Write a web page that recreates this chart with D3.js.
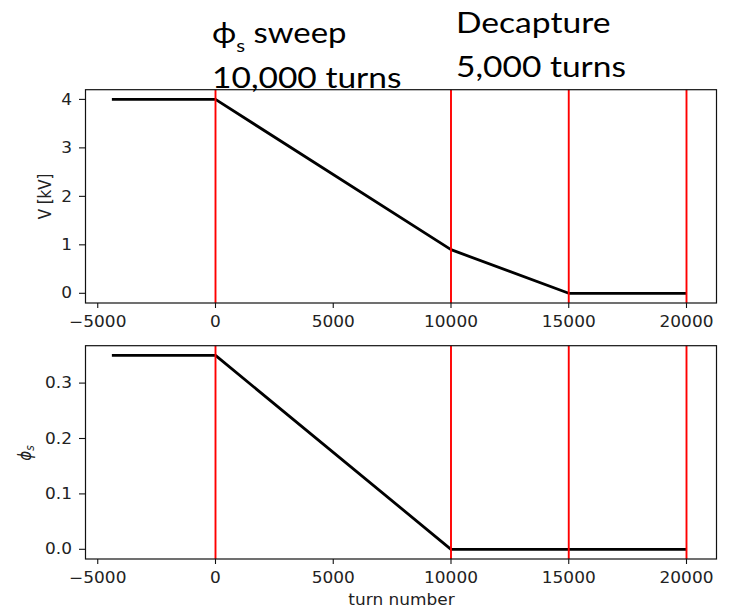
<!DOCTYPE html>
<html>
<head>
<meta charset="utf-8">
<script src="https://cdn.jsdelivr.net/npm/d3@7"></script>
<style>
  html, body { margin: 0; padding: 0; background: #fff; }
  svg { display: block; }
</style>
</head>
<body>
<svg id="chart" width="738" height="613"></svg>
<script>
// Programme breakpoints (turn number)
const turns = [-4400, 0, 10000, 15000, 20000];
// RF voltage in kV at each breakpoint
const voltage = [4, 4, 0.9, 0, 0];
// Synchronous phase at each breakpoint
const phiS = [0.35, 0.35, 0, 0, 0];
// Phase boundaries marked with vertical lines
const markers = [0, 10000, 15000, 20000];
// Tick values
const xTicks = [-5000, 0, 5000, 10000, 15000, 20000];
const vTicks = [0, 1, 2, 3, 4];
const phiTicks = [0.0, 0.1, 0.2, 0.3];

const svg = d3.select("#chart");
const SX = 1.13;           // horizontal text stretch
const tickFont = "'DejaVu Sans', sans-serif";

const plotLeft = 85.5, plotRight = 716.5;
const x = d3.scaleLinear().domain([-5520, 21274]).range([plotLeft, plotRight]);

function panel(top, bottom, yDomain, values, yTicks, yFmt) {
  const y = d3.scaleLinear().domain(yDomain).range([bottom, top]);
  const g = svg.append("g");

  // data curve
  const line = d3.line().x((d, i) => x(turns[i])).y(d => y(d));
  g.append("path").datum(values)
    .attr("d", line)
    .attr("fill", "none")
    .attr("stroke", "#000")
    .attr("stroke-width", 2.8)
    .attr("stroke-linejoin", "round");

  // phase markers spanning the full axes height
  g.selectAll("line.marker").data(markers).join("line")
    .attr("class", "marker")
    .attr("x1", d => x(d)).attr("x2", d => x(d))
    .attr("y1", top).attr("y2", bottom)
    .attr("stroke", "#ff0000")
    .attr("stroke-width", 1.9);

  // frame
  g.append("rect")
    .attr("x", plotLeft).attr("y", top)
    .attr("width", plotRight - plotLeft).attr("height", bottom - top)
    .attr("fill", "none").attr("stroke", "#111").attr("stroke-width", 1.2);

  // x ticks
  xTicks.forEach(t => {
    g.append("line")
      .attr("x1", x(t)).attr("x2", x(t))
      .attr("y1", bottom).attr("y2", bottom + 5)
      .attr("stroke", "#111").attr("stroke-width", 1.1);
    g.append("text")
      .attr("transform", `translate(${x(t)},${bottom + 23.5}) scale(${SX},1)`)
      .attr("text-anchor", "middle")
      .attr("font-family", tickFont).attr("font-size", 15)
      .attr("fill", "#222")
      .text(d3.format("")(t).replace("-", "\u2212"));
  });

  // y ticks
  yTicks.forEach(t => {
    g.append("line")
      .attr("x1", plotLeft - 6.5).attr("x2", plotLeft)
      .attr("y1", y(t)).attr("y2", y(t))
      .attr("stroke", "#111").attr("stroke-width", 1.1);
    g.append("text")
      .attr("transform", `translate(${plotLeft - 13.5},${y(t)}) scale(${SX},1)`)
      .attr("text-anchor", "end")
      .attr("dominant-baseline", "central")
      .attr("font-family", tickFont).attr("font-size", 15)
      .attr("fill", "#222")
      .text(yFmt(t));
  });
  return y;
}

// top panel: RF voltage
panel(89.7, 303, [-0.2, 4.2], voltage, vTicks, d3.format("d"));
// bottom panel: synchronous phase
panel(345.7, 559, [-0.0175, 0.3675], phiS, phiTicks, d3.format(".1f"));

// axis labels
svg.append("text")
  .attr("transform", `translate(50.5,196.5) scale(${SX},1) rotate(-90)`)
  .attr("text-anchor", "middle")
  .attr("font-family", tickFont).attr("font-size", 15).attr("fill", "#222")
  .text("V [kV]");

const phiLabel = svg.append("text")
  .attr("transform", `translate(31,453) scale(${SX},1) rotate(-90)`)
  .attr("text-anchor", "middle")
  .attr("font-family", tickFont).attr("font-size", 15).attr("fill", "#222");
phiLabel.append("tspan").attr("font-style", "italic").text("\u03d5");
phiLabel.append("tspan").attr("font-style", "italic").attr("font-size", 10.5).attr("dy", 3).text("s");

svg.append("text")
  .attr("transform", `translate(401.5,605) scale(${SX},1)`)
  .attr("text-anchor", "middle")
  .attr("font-family", tickFont).attr("font-size", 15).attr("fill", "#222")
  .text("turn number");

// phase annotations above the top panel
const noteFont = "Lato, 'Open Sans', sans-serif";
function note(x0, x1, base, size) {
  return svg.append("text")
    .attr("x", x0).attr("y", base)
    .attr("font-family", noteFont).attr("font-size", size).attr("fill", "#000")
    .attr("textLength", x1 - x0).attr("lengthAdjust", "spacingAndGlyphs");
}
const sweep = note(212, 346.5, 43.3, 29);
sweep.append("tspan").text("\u03d5");
sweep.append("tspan").attr("font-size", 18).attr("dy", 9).text("s");
sweep.append("tspan").attr("dy", -9).text(" sweep");
note(212, 401.5, 88, 29).text("10,000 turns");
note(456, 610.5, 33.3, 29).text("Decapture");
note(456, 626, 76.7, 29).text("5,000 turns");
</script>
</body>
</html>
